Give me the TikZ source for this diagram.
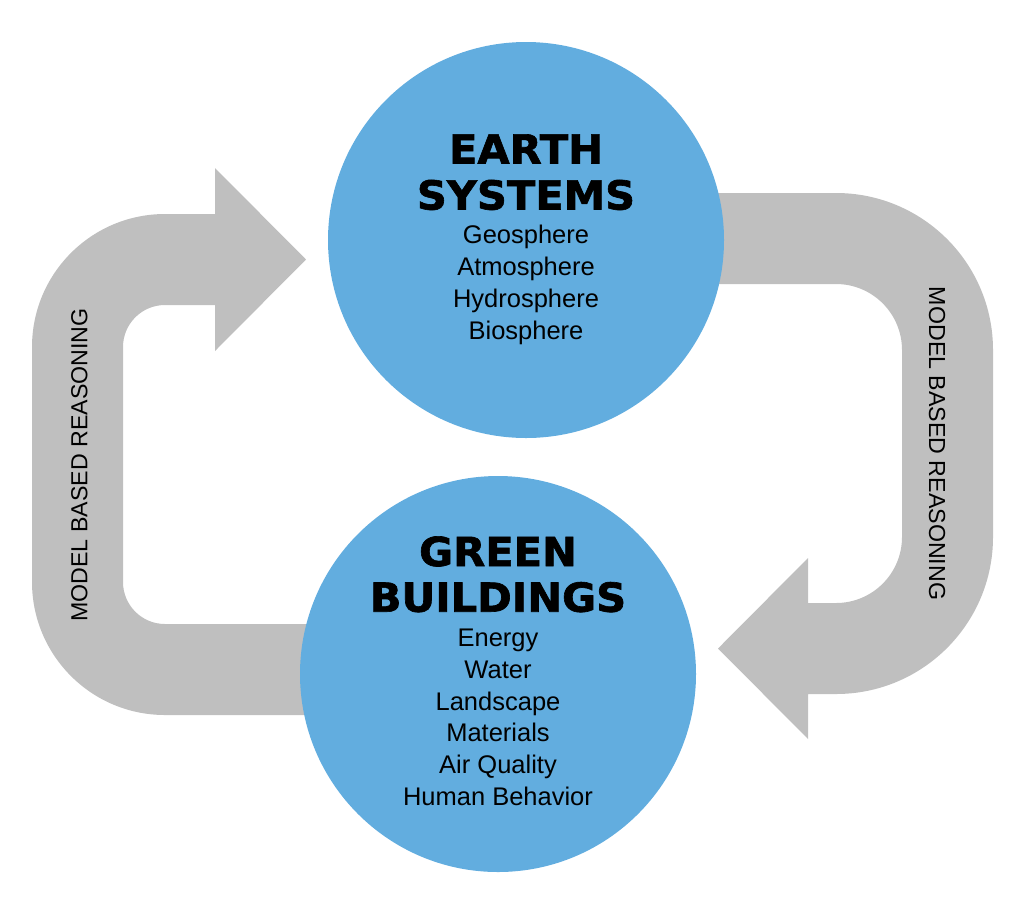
\documentclass[tikz,border=0pt]{standalone}
\usepackage{fontspec}
\setmainfont{Liberation Sans}
\newfontfamily\titlefont[FakeBold=1.6,FakeStretch=1.04]{DejaVu Sans Bold}
\definecolor{circblue}{RGB}{98,173,223}
\definecolor{arrgray}{RGB}{191,191,191}
\begin{document}
\begin{tikzpicture}[x=1pt,y=-1pt,
  band/.style={fill=arrgray},
  bubble/.style={circle,fill=circblue,minimum size=396pt,inner sep=0pt},
  title/.style={anchor=base,inner sep=0pt,font=\titlefont\fontsize{40}{40}\selectfont},
  item/.style={anchor=base,inner sep=0pt,font=\fontsize{25.5}{25.5}\selectfont},
  side/.style={inner sep=0pt,font=\fontsize{23.2}{23.2}\selectfont}]
\useasboundingbox (0,0) rectangle (1024,903);
% left arrow
\fill[band] (400,715) -- (165,715) arc[start angle=90,end angle=180,radius=133]
  -- (32,347) arc[start angle=180,end angle=270,radius=133]
  -- (215,214) -- (215,168) -- (306,259.5) -- (215,351) -- (215,305)
  -- (165,305) arc[start angle=270,end angle=180,radius=42]
  -- (123,582) arc[start angle=180,end angle=90,radius=42]
  -- (400,624) -- cycle;
% right arrow
\fill[band] (600,193) -- (836,193) arc[start angle=270,end angle=360,radius=157]
  -- (993,537) arc[start angle=0,end angle=90,radius=157]
  -- (808,694) -- (808,739) -- (718,648.5) -- (808,558) -- (808,603)
  -- (836,603) arc[start angle=90,end angle=0,radius=66]
  -- (902,350) arc[start angle=0,end angle=-90,radius=66]
  -- (600,284) -- cycle;
% circles
\node[bubble] (earth) at (526,240) {};
\node[bubble] (green) at (498,674) {};
% top texts
\node[title] (et1) at (526,163.5) {EARTH};
\node[title] (et2) at (526,209.5) {SYSTEMS};
\node[item] (e1) at (526,243.3) {Geosphere};
\node[item] (e2) at (526,275.6) {Atmosphere};
\node[item] (e3) at (526,307.6) {Hydrosphere};
\node[item] (e4) at (526,339.4) {Biosphere};
% bottom texts
\node[title] (gt1) at (498,566) {GREEN};
\node[title] (gt2) at (498,611.7) {BUILDINGS};
\node[item] (g1) at (498,646) {Energy};
\node[item] (g2) at (498,678.3) {Water};
\node[item] (g3) at (498,710) {Landscape};
\node[item] (g4) at (498,741.7) {Materials};
\node[item] (g5) at (498,773.3) {Air Quality};
\node[item] (g6) at (498,805) {Human Behavior};
% side labels
\node[side,rotate=90] (lbl) at (79.5,465) {MODEL BASED REASONING};
\node[side,rotate=-90] (rbl) at (937,443.6) {MODEL BASED REASONING};
\end{tikzpicture}
\end{document}
